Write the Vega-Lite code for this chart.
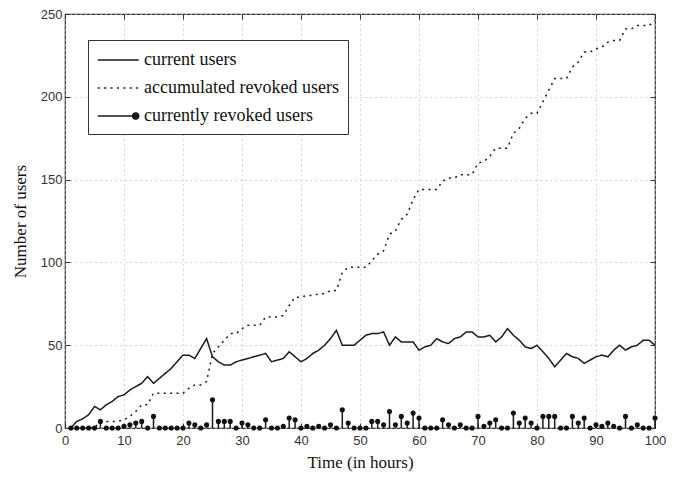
{
  "$schema": "https://vega.github.io/schema/vega-lite/v6.json",
  "autosize": {"type": "none"},
  "width": 590,
  "height": 414,
  "padding": {"left": 65, "top": 14, "right": 27, "bottom": 49},
  "background": "white",
  "config": {
    "view": {"stroke": "#333", "strokeWidth": 1.2},
    "scale": {"continuousPadding": 0},
    "axis": {
      "labelFont": "Liberation Sans",
      "labelFontSize": 13,
      "labelColor": "#333",
      "labelFlush": false,
      "titleFont": "Liberation Serif",
      "titleFontSize": 17,
      "titleFontWeight": "normal",
      "titleColor": "#111",
      "domain": false,
      "gridColor": "#bbb",
      "gridDash": [1.2, 3.8],
      "gridWidth": 1,
      "tickColor": "#333",
      "tickSize": -5
    }
  },
  "data": {"values": [
    {"t":1,"current":0,"accumulated":0,"revoked":0},
    {"t":2,"current":4,"accumulated":0,"revoked":0},
    {"t":3,"current":5.5,"accumulated":0,"revoked":0},
    {"t":4,"current":8,"accumulated":0,"revoked":0},
    {"t":5,"current":13,"accumulated":0,"revoked":0},
    {"t":6,"current":11,"accumulated":4,"revoked":4},
    {"t":7,"current":14,"accumulated":4,"revoked":0},
    {"t":8,"current":16,"accumulated":4,"revoked":0},
    {"t":9,"current":19,"accumulated":4,"revoked":0},
    {"t":10,"current":20,"accumulated":5,"revoked":1},
    {"t":11,"current":23,"accumulated":7,"revoked":2},
    {"t":12,"current":25,"accumulated":10,"revoked":3},
    {"t":13,"current":27,"accumulated":14,"revoked":4},
    {"t":14,"current":31,"accumulated":14,"revoked":0},
    {"t":15,"current":27,"accumulated":21,"revoked":7},
    {"t":16,"current":30,"accumulated":21,"revoked":0},
    {"t":17,"current":33,"accumulated":21,"revoked":0},
    {"t":18,"current":36,"accumulated":21,"revoked":0},
    {"t":19,"current":40,"accumulated":21,"revoked":0},
    {"t":20,"current":44,"accumulated":21,"revoked":0},
    {"t":21,"current":44,"accumulated":24,"revoked":3},
    {"t":22,"current":42,"accumulated":26,"revoked":2},
    {"t":23,"current":48,"accumulated":26,"revoked":0},
    {"t":24,"current":54,"accumulated":28,"revoked":2},
    {"t":25,"current":43,"accumulated":45,"revoked":17},
    {"t":26,"current":40,"accumulated":49,"revoked":4},
    {"t":27,"current":38,"accumulated":53,"revoked":4},
    {"t":28,"current":38,"accumulated":57,"revoked":4},
    {"t":29,"current":40,"accumulated":57,"revoked":0},
    {"t":30,"current":41,"accumulated":60,"revoked":3},
    {"t":31,"current":42,"accumulated":62,"revoked":2},
    {"t":32,"current":43,"accumulated":62,"revoked":0},
    {"t":33,"current":44,"accumulated":62,"revoked":0},
    {"t":34,"current":45,"accumulated":67,"revoked":5},
    {"t":35,"current":40,"accumulated":67,"revoked":0},
    {"t":36,"current":41,"accumulated":67,"revoked":0},
    {"t":37,"current":42,"accumulated":68,"revoked":1},
    {"t":38,"current":46,"accumulated":74,"revoked":6},
    {"t":39,"current":43,"accumulated":79,"revoked":5},
    {"t":40,"current":40,"accumulated":79,"revoked":0},
    {"t":41,"current":42,"accumulated":80,"revoked":1},
    {"t":42,"current":45,"accumulated":80,"revoked":0},
    {"t":43,"current":47,"accumulated":81,"revoked":1},
    {"t":44,"current":50,"accumulated":81,"revoked":0},
    {"t":45,"current":54,"accumulated":83,"revoked":2},
    {"t":46,"current":59,"accumulated":83,"revoked":0},
    {"t":47,"current":50,"accumulated":94,"revoked":11},
    {"t":48,"current":50,"accumulated":97,"revoked":3},
    {"t":49,"current":50,"accumulated":97,"revoked":0},
    {"t":50,"current":53,"accumulated":97,"revoked":0},
    {"t":51,"current":56,"accumulated":97,"revoked":0},
    {"t":52,"current":57,"accumulated":101,"revoked":4},
    {"t":53,"current":57,"accumulated":105,"revoked":4},
    {"t":54,"current":58,"accumulated":107,"revoked":2},
    {"t":55,"current":50,"accumulated":117,"revoked":10},
    {"t":56,"current":55,"accumulated":119,"revoked":2},
    {"t":57,"current":52,"accumulated":126,"revoked":7},
    {"t":58,"current":52,"accumulated":129,"revoked":3},
    {"t":59,"current":52,"accumulated":138,"revoked":9},
    {"t":60,"current":47,"accumulated":144,"revoked":6},
    {"t":61,"current":49,"accumulated":144,"revoked":0},
    {"t":62,"current":50,"accumulated":144,"revoked":0},
    {"t":63,"current":54,"accumulated":144,"revoked":0},
    {"t":64,"current":52,"accumulated":149,"revoked":5},
    {"t":65,"current":51,"accumulated":151,"revoked":2},
    {"t":66,"current":54,"accumulated":151,"revoked":0},
    {"t":67,"current":55,"accumulated":153,"revoked":2},
    {"t":68,"current":58,"accumulated":153,"revoked":0},
    {"t":69,"current":58,"accumulated":153,"revoked":0},
    {"t":70,"current":55,"accumulated":160,"revoked":7},
    {"t":71,"current":55,"accumulated":161,"revoked":1},
    {"t":72,"current":56,"accumulated":164,"revoked":3},
    {"t":73,"current":52,"accumulated":169,"revoked":5},
    {"t":74,"current":55,"accumulated":169,"revoked":0},
    {"t":75,"current":60,"accumulated":169,"revoked":0},
    {"t":76,"current":56,"accumulated":178,"revoked":9},
    {"t":77,"current":53,"accumulated":181,"revoked":3},
    {"t":78,"current":49,"accumulated":187,"revoked":6},
    {"t":79,"current":48,"accumulated":190,"revoked":3},
    {"t":80,"current":50,"accumulated":190,"revoked":0},
    {"t":81,"current":46,"accumulated":197,"revoked":7},
    {"t":82,"current":42,"accumulated":204,"revoked":7},
    {"t":83,"current":37,"accumulated":211,"revoked":7},
    {"t":84,"current":41,"accumulated":211,"revoked":0},
    {"t":85,"current":45,"accumulated":211,"revoked":0},
    {"t":86,"current":43,"accumulated":218,"revoked":7},
    {"t":87,"current":42,"accumulated":221,"revoked":3},
    {"t":88,"current":39,"accumulated":227,"revoked":6},
    {"t":89,"current":41,"accumulated":227,"revoked":0},
    {"t":90,"current":43,"accumulated":229,"revoked":2},
    {"t":91,"current":44,"accumulated":230,"revoked":1},
    {"t":92,"current":43,"accumulated":233,"revoked":3},
    {"t":93,"current":47,"accumulated":234,"revoked":1},
    {"t":94,"current":50,"accumulated":234,"revoked":0},
    {"t":95,"current":47,"accumulated":241,"revoked":7},
    {"t":96,"current":49,"accumulated":241,"revoked":0},
    {"t":97,"current":50,"accumulated":243,"revoked":2},
    {"t":98,"current":53,"accumulated":243,"revoked":0},
    {"t":99,"current":53,"accumulated":243,"revoked":0},
    {"t":100,"current":50,"accumulated":246,"revoked":6}
  ]},
  "resolve": {"axis": {"x": "independent", "y": "independent"}},
  "layer": [
    {
      "transform": [
        {"fold": ["current", "accumulated"], "as": ["series_key", "value"]},
        {"lookup": "series_key", "from": {"data": {"values": [
          {"key": "current", "series": "current users"},
          {"key": "accumulated", "series": "accumulated revoked users"}
        ]}, "key": "key", "fields": ["series"]}}
      ],
      "mark": {"type": "line", "color": "#1a1a1a", "strokeWidth": 1.5},
      "encoding": {
        "x": {"field": "t", "type": "quantitative",
              "scale": {"domain": [0, 100], "nice": false, "zero": false, "padding": 0},
              "axis": {"orient": "bottom", "values": [0,10,20,30,40,50,60,70,80,90,100], "title": "Time (in hours)", "labelPadding": 11, "titlePadding": 7, "labelFlush": false}},
        "y": {"field": "value", "type": "quantitative",
              "scale": {"domain": [0, 250], "nice": false, "padding": 0},
              "axis": {"orient": "left", "values": [0,50,100,150,200,250], "title": "Number of users", "labelPadding": 8, "titlePadding": 11, "labelFlush": false}},
        "strokeDash": {"field": "series", "type": "nominal",
          "scale": {"domain": ["current users", "accumulated revoked users", "currently revoked users"],
                    "range": [[1, 0], [2, 4.4], [1, 0]]},
          "legend": {
            "title": null,
            "orient": "none",
            "legendX": 23,
            "legendY": 26,
            "fillColor": "white",
            "strokeColor": "#333",
            "padding": 9,
            "rowPadding": 8,
            "symbolSize": 420,
            "symbolStrokeWidth": 1.5,
            "symbolStrokeColor": "#1a1a1a",
            "labelOffset": 25,
            "labelFont": "Liberation Serif",
            "labelFontSize": 18,
            "labelColor": "#111",
            "labelLimit": 400,
            "labelExpr": "datum.label + '\u2003\u2002\u2009'",
            "encode": {"symbols": {"update": {
              "shape": {"signal": "datum.label === 'currently revoked users' ? 'M-1,0L2.4,0M3,0A0.3,0.3,0,1,1,2.4,0A0.3,0.3,0,1,1,3,0Z' : 'M-1,0L3,0'"},
              "fill": {"signal": "datum.label === 'currently revoked users' ? '#1a1a1a' : 'transparent'"},
              "stroke": {"value": "#1a1a1a"},
              "strokeWidth": {"value": 1.5},
              "strokeOpacity": {"value": 1},
              "opacity": {"value": 1},
              "strokeDash": {"signal": "datum.label === 'accumulated revoked users' ? [2, 4.4] : [1, 0]"}
            }}}
          }}
      }
    },
    {
      "mark": {"type": "rule", "color": "#1a1a1a", "strokeWidth": 1.5},
      "encoding": {
        "x": {"field": "t", "type": "quantitative", "scale": {"domain": [0, 100], "nice": false, "zero": false, "padding": 0}, "axis": null},
        "y": {"field": "revoked", "type": "quantitative", "scale": {"domain": [0, 250], "nice": false, "padding": 0}, "axis": null},
        "y2": {"datum": 0}
      }
    },
    {
      "mark": {"type": "point", "filled": true, "color": "#111", "size": 26, "opacity": 1},
      "encoding": {
        "x": {"field": "t", "type": "quantitative",
              "scale": {"domain": [0, 100], "nice": false, "zero": false, "padding": 0},
              "axis": {"orient": "top", "values": [0,10,20,30,40,50,60,70,80,90,100], "labels": false, "grid": false, "title": null}},
        "y": {"field": "revoked", "type": "quantitative",
              "scale": {"domain": [0, 250], "nice": false, "padding": 0},
              "axis": {"orient": "right", "values": [0,50,100,150,200,250], "labels": false, "grid": false, "title": null}}
      }
    }
  ]
}
